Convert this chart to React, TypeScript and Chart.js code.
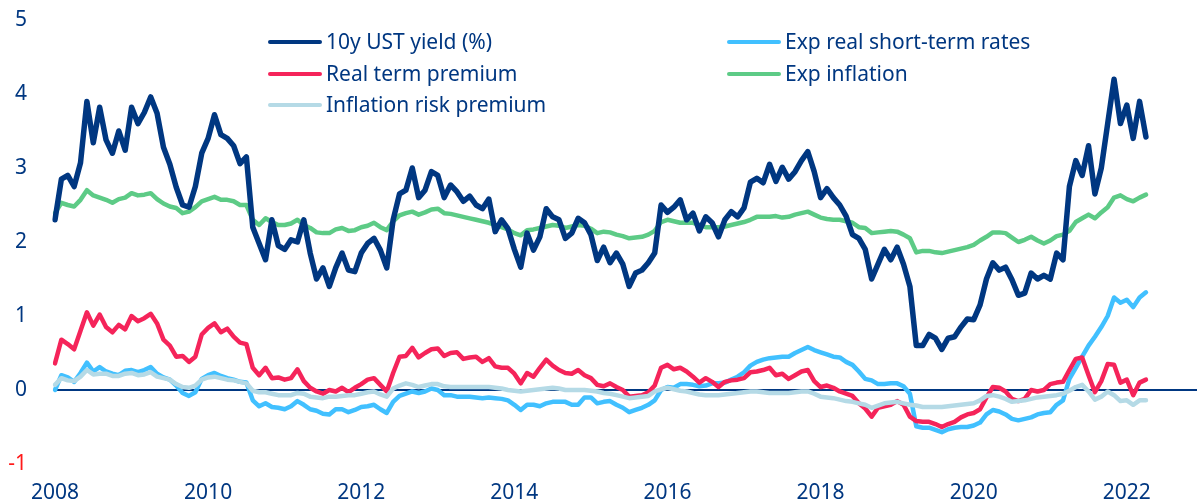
import { useEffect, useRef } from "react";
import { Chart, registerables } from "chart.js";

Chart.register(...registerables);

const NAVY = "#003781";
const SKY = "#41C0FF";
const RED = "#F5245A";
const GREEN = "#5DCB86";
const PALE = "#B5DAE6";
const AXIS_RED = "#FF1A1A";
const FONT = "'Noto Sans', 'Open Sans', sans-serif";

// monthly categories, Jan 2008 .. Dec 2022
const months: string[] = [];
for (let y = 2008; y <= 2022; y++) {
  for (let m = 1; m <= 12; m++) months.push(`${y}-${String(m).padStart(2, "0")}`);
}
const yearTicks = ["2008", "2010", "2012", "2014", "2016", "2018", "2020", "2022"];
const yTicks = [-1, 0, 1, 2, 3, 4, 5];

const seriesNames = [
  "10y UST yield (%)",
  "Exp real short-term rates",
  "Real term premium",
  "Exp inflation",
  "Inflation risk premium",
];

const ust10y = [
  2.3, 2.85, 2.9, 2.75, 3.07, 3.9, 3.34, 3.82, 3.38, 3.2, 3.5, 3.24,
  3.82, 3.6, 3.75, 3.96, 3.74, 3.28, 3.05, 2.74, 2.5, 2.47, 2.75, 3.2,
  3.4, 3.72, 3.45, 3.4, 3.3, 3.06, 3.15, 2.2, 1.98, 1.76, 2.3, 1.95,
  1.9, 2.03, 2.0, 2.3, 1.85, 1.5, 1.65, 1.4, 1.65, 1.85, 1.62, 1.6,
  1.85, 1.98, 2.05, 1.89, 1.65, 2.3, 2.65, 2.7, 3.0, 2.6, 2.7, 2.95,
  2.9, 2.6, 2.77, 2.68, 2.55, 2.62, 2.5, 2.45, 2.58, 2.14, 2.3, 2.18,
  1.9, 1.66, 2.12, 1.89, 2.07, 2.45, 2.34, 2.3, 2.05, 2.12, 2.32, 2.26,
  2.1, 1.75, 1.93, 1.72, 1.85, 1.7, 1.4, 1.58, 1.62, 1.72, 1.85, 2.5,
  2.4, 2.47, 2.57, 2.3, 2.39, 2.15, 2.34, 2.26, 2.07, 2.3, 2.41, 2.34,
  2.46, 2.81, 2.86, 2.8, 3.05, 2.82, 3.01, 2.85, 2.95, 3.1, 3.22, 2.95,
  2.6, 2.72, 2.6, 2.5, 2.35, 2.1, 2.05, 1.9, 1.5, 1.7, 1.9, 1.76,
  1.93, 1.7, 1.4, 0.6, 0.6, 0.75, 0.7, 0.55, 0.7, 0.72, 0.85, 0.96,
  0.95, 1.15, 1.5, 1.72, 1.62, 1.66, 1.49, 1.28, 1.31, 1.58, 1.5, 1.55,
  1.5, 1.85, 1.76, 2.75, 3.1, 2.9, 3.3, 2.65, 3.0, 3.6, 4.2, 3.6,
  3.85, 3.4, 3.9, 3.42,
];

const expRealShort = [
  0.0, 0.2, 0.17, 0.11, 0.23, 0.37, 0.25, 0.31, 0.25, 0.22, 0.2, 0.26,
  0.27, 0.24, 0.27, 0.31, 0.22, 0.17, 0.14, 0.06, -0.04, -0.08, -0.03, 0.15,
  0.2, 0.23, 0.19, 0.16, 0.14, 0.11, 0.1, -0.14, -0.22, -0.18, -0.23, -0.24,
  -0.26, -0.22, -0.15, -0.2, -0.26, -0.28, -0.32, -0.33, -0.26, -0.26, -0.3, -0.27,
  -0.23, -0.22, -0.2, -0.26, -0.31, -0.16, -0.08, -0.05, -0.02, -0.04, -0.02, 0.02,
  0.0, -0.07, -0.07, -0.09, -0.09, -0.09, -0.1, -0.11, -0.1, -0.11, -0.12, -0.14,
  -0.2, -0.27, -0.2, -0.2, -0.22, -0.18, -0.16, -0.16, -0.16, -0.2, -0.2, -0.1,
  -0.1, -0.18, -0.16, -0.15, -0.2, -0.24, -0.3, -0.27, -0.24, -0.2, -0.14, 0.0,
  0.04, 0.03, 0.08, 0.08, 0.07, 0.05, 0.06, 0.09, 0.09, 0.1, 0.14, 0.18,
  0.24, 0.33, 0.38, 0.41, 0.43, 0.44, 0.45, 0.45, 0.5, 0.54, 0.58, 0.54,
  0.51, 0.48, 0.45, 0.44, 0.38, 0.34, 0.25, 0.15, 0.13, 0.08, 0.08, 0.09,
  0.09, 0.05, -0.05, -0.49, -0.51, -0.51, -0.54, -0.57, -0.53, -0.51, -0.5, -0.5,
  -0.48, -0.44, -0.33, -0.27, -0.29, -0.33, -0.39, -0.41, -0.39, -0.37, -0.33, -0.31,
  -0.3, -0.2, -0.14, 0.15, 0.3, 0.45, 0.6, 0.72, 0.85, 1.0, 1.25, 1.18,
  1.22, 1.12, 1.25, 1.32,
];

const realTermPremium = [
  0.36, 0.68, 0.62, 0.55, 0.8, 1.05, 0.87, 1.02, 0.85, 0.78, 0.88, 0.82,
  1.0, 0.93, 0.97, 1.03, 0.9, 0.68, 0.6, 0.45, 0.46, 0.38, 0.45, 0.75,
  0.84, 0.9, 0.78, 0.83, 0.72, 0.64, 0.62, 0.3, 0.2, 0.3, 0.16, 0.17,
  0.14, 0.16, 0.28, 0.12, 0.03, -0.02, -0.05, 0.0, -0.02, 0.03, -0.03, 0.03,
  0.08, 0.14, 0.16, 0.07, -0.02, 0.23, 0.45, 0.46, 0.57, 0.44, 0.5, 0.55,
  0.56, 0.46, 0.5, 0.51, 0.42, 0.44, 0.45, 0.38, 0.43, 0.32, 0.3, 0.3,
  0.22, 0.09, 0.23, 0.18, 0.3, 0.41, 0.33, 0.27, 0.23, 0.22, 0.27, 0.2,
  0.16, 0.07, 0.05, 0.09, 0.04, 0.0, -0.09, -0.08, -0.07, -0.03, 0.06, 0.3,
  0.34, 0.28, 0.3, 0.25, 0.18, 0.1, 0.16, 0.11, 0.04, 0.11, 0.13, 0.14,
  0.16, 0.24, 0.25, 0.27, 0.3, 0.2, 0.22, 0.15, 0.2, 0.25, 0.27, 0.12,
  0.04, 0.06, 0.03, -0.02, -0.05, -0.08, -0.18, -0.25, -0.36, -0.24, -0.22, -0.2,
  -0.15, -0.2, -0.36, -0.42, -0.43, -0.43, -0.46, -0.5, -0.46, -0.43, -0.37, -0.33,
  -0.31, -0.26, -0.1, 0.04, 0.03, -0.02, -0.12, -0.15, -0.12, 0.0, -0.02, 0.0,
  0.08, 0.1, 0.11, 0.27, 0.42, 0.44, 0.2, -0.03, 0.12, 0.35, 0.34, 0.1,
  0.14, -0.07, 0.1, 0.14,
];

const expInflation = [
  2.39, 2.53, 2.5, 2.48, 2.57, 2.7, 2.63, 2.6, 2.57, 2.53, 2.58, 2.6,
  2.66, 2.63, 2.64, 2.66, 2.58, 2.52, 2.48, 2.46, 2.39, 2.41, 2.47, 2.55,
  2.58, 2.61, 2.57, 2.57, 2.55, 2.5, 2.5, 2.3, 2.23, 2.32, 2.27, 2.23,
  2.23, 2.25, 2.3, 2.23, 2.19, 2.13, 2.12, 2.12, 2.17, 2.19, 2.15, 2.16,
  2.2, 2.22, 2.26, 2.2, 2.16, 2.28, 2.36, 2.39, 2.41, 2.37, 2.4, 2.44,
  2.45, 2.39, 2.38, 2.36, 2.34, 2.32, 2.3, 2.28, 2.26, 2.23, 2.2, 2.17,
  2.12, 2.09, 2.16, 2.17, 2.19, 2.21, 2.23, 2.22, 2.19, 2.21, 2.23, 2.22,
  2.18, 2.12, 2.14, 2.13, 2.1, 2.08, 2.05, 2.06, 2.07, 2.1, 2.15, 2.27,
  2.3, 2.28, 2.26, 2.26, 2.26, 2.23, 2.2, 2.2, 2.2, 2.21, 2.23, 2.25,
  2.27, 2.3, 2.34, 2.34, 2.34, 2.35, 2.33, 2.34, 2.37, 2.39, 2.41, 2.37,
  2.33, 2.31, 2.3, 2.3, 2.28, 2.26, 2.2, 2.19, 2.12, 2.13, 2.14, 2.15,
  2.14, 2.1, 2.05, 1.86, 1.88, 1.88, 1.86, 1.85, 1.87, 1.89, 1.91, 1.93,
  1.96, 2.02, 2.07, 2.13, 2.13, 2.12, 2.06, 2.0, 2.03, 2.07, 2.02, 1.98,
  2.02, 2.08, 2.1, 2.15, 2.27, 2.32, 2.37, 2.32, 2.4, 2.47, 2.6, 2.63,
  2.58, 2.55, 2.6, 2.64,
];

const inflationRiskPremium = [
  0.07, 0.16, 0.13, 0.12, 0.18, 0.27, 0.21, 0.22, 0.22, 0.19, 0.19, 0.22,
  0.23, 0.2, 0.21, 0.24, 0.18, 0.16, 0.14, 0.08, 0.04, 0.03, 0.06, 0.14,
  0.17, 0.18, 0.16, 0.14, 0.13, 0.11, 0.09, -0.01, -0.03, -0.03, -0.05, -0.07,
  -0.07, -0.07, -0.04, -0.05, -0.09, -0.1, -0.11, -0.09, -0.09, -0.08, -0.07, -0.07,
  -0.05, -0.03, -0.02, -0.06, -0.09, 0.02, 0.06, 0.09, 0.07, 0.04, 0.06, 0.08,
  0.08, 0.05, 0.04, 0.04, 0.04, 0.04, 0.04, 0.04, 0.04, 0.03, 0.02, 0.0,
  -0.01, -0.02, -0.01, 0.0, 0.01, 0.02, 0.03, 0.02, 0.0, 0.0, 0.0, 0.0,
  -0.01, -0.02, -0.04, -0.05, -0.07, -0.09, -0.11, -0.1, -0.09, -0.08, -0.02, 0.01,
  0.03, 0.01, -0.01, -0.02, -0.04, -0.06, -0.07, -0.07, -0.07, -0.06, -0.05, -0.04,
  -0.03, -0.02, -0.02, -0.03, -0.04, -0.04, -0.04, -0.04, -0.03, -0.02, -0.02, -0.05,
  -0.09, -0.1, -0.11, -0.13, -0.15, -0.16, -0.18, -0.2, -0.24, -0.21, -0.18, -0.17,
  -0.16, -0.18, -0.2, -0.21, -0.23, -0.23, -0.23, -0.23, -0.22, -0.21, -0.2, -0.19,
  -0.18, -0.14, -0.08, -0.07, -0.09, -0.12, -0.16, -0.15, -0.14, -0.12, -0.1, -0.09,
  -0.08, -0.07, -0.05, -0.01, 0.04, 0.07, -0.02, -0.13, -0.09, -0.02, -0.07, -0.15,
  -0.14, -0.2, -0.14, -0.14,
];

const seriesValues = [ust10y, expRealShort, realTermPremium, expInflation, inflationRiskPremium];
const seriesColors = [NAVY, SKY, RED, GREEN, PALE];
const seriesWidths = [5.5, 4.5, 4.5, 4.5, 4.5];
const seriesOrder = [0, 4, 2, 3, 1];

// legend slots: [column, row]
const legendSlots = [
  [0, 0],
  [1, 0],
  [0, 1],
  [1, 1],
  [0, 2],
];
const legendColX = [268, 727];
const legendRowY = [42, 74, 105];

const legendPlugin = {
  id: "customLegend",
  afterDraw(chart: any) {
    const ctx = chart.ctx as CanvasRenderingContext2D;
    ctx.save();
    ctx.font = `21px ${FONT}`;
    ctx.textBaseline = "middle";
    ctx.textAlign = "left";
    seriesNames.forEach((name, i) => {
      const [c, r] = legendSlots[i];
      const x = legendColX[c];
      const y = legendRowY[r];
      ctx.strokeStyle = seriesColors[i];
      ctx.lineWidth = 4;
      ctx.lineCap = "round";
      ctx.beginPath();
      ctx.moveTo(x + 2, y);
      ctx.lineTo(x + 52, y);
      ctx.stroke();
      ctx.fillStyle = NAVY;
      ctx.fillText(name, x + 58, y + 1);
    });
    ctx.restore();
  },
};

const zeroPaddings = (s: any) => {
  s.paddingTop = 0;
  s.paddingBottom = 0;
  s.paddingLeft = 0;
  s.paddingRight = 0;
};

export default function App() {
  const ref = useRef<HTMLCanvasElement | null>(null);

  useEffect(() => {
    if (!ref.current) return;
    const chart = new Chart(ref.current, {
      type: "line",
      data: {
        labels: months,
        datasets: seriesNames.map((name, i) => ({
          label: name,
          data: seriesValues[i],
          borderColor: seriesColors[i],
          backgroundColor: seriesColors[i],
          borderWidth: seriesWidths[i],
          pointRadius: 0,
          tension: 0,
          fill: false,
          order: seriesOrder[i],
          borderJoinStyle: "round" as const,
          borderCapStyle: "round" as const,
        })),
      },
      options: {
        responsive: false,
        animation: false,
        layout: { padding: { top: 20, right: 0, bottom: 0, left: 0 } },
        plugins: {
          legend: { display: false },
          tooltip: { enabled: false },
        },
        scales: {
          x: {
            type: "category",
            offset: false,
            grid: { display: false, drawTicks: false },
            border: { display: false },
            afterFit: (scale: any) => {
              scale.height = 40;
              zeroPaddings(scale);
            },
            ticks: {
              autoSkip: false,
              maxRotation: 0,
              minRotation: 0,
              padding: 16,
              color: NAVY,
              font: { family: FONT, size: 21 },
              callback: (_v: any, idx: number) => {
                const lab = months[idx];
                const yr = lab.slice(0, 4);
                return lab.endsWith("-01") && yearTicks.includes(yr) ? yr : "";
              },
            },
          },
          y: {
            type: "linear",
            min: yTicks[0],
            max: yTicks[yTicks.length - 1],
            afterFit: (scale: any) => {
              scale.width = 55;
              zeroPaddings(scale);
            },
            afterBuildTicks: (scale: any) => {
              scale.ticks = yTicks.map((v) => ({ value: v }));
            },
            grid: {
              drawTicks: false,
              color: (c: any) => (c.tick && c.tick.value === 0 ? NAVY : "rgba(0,0,0,0)"),
              lineWidth: (c: any) => (c.tick && c.tick.value === 0 ? 2 : 0),
            },
            border: { display: false },
            ticks: {
              padding: 28,
              color: (c: any) => (c.tick && c.tick.value < 0 ? AXIS_RED : NAVY),
              font: { family: FONT, size: 21 },
              callback: (v: any) => String(v),
            },
          },
        },
      },
      plugins: [legendPlugin],
    });
    return () => chart.destroy();
  }, []);

  return (
    <div style={{ position: "fixed", left: 0, top: 0, width: 1197, height: 504, background: "#fff" }}>
      <canvas ref={ref} width={1197} height={504} style={{ display: "block" }} />
    </div>
  );
}
